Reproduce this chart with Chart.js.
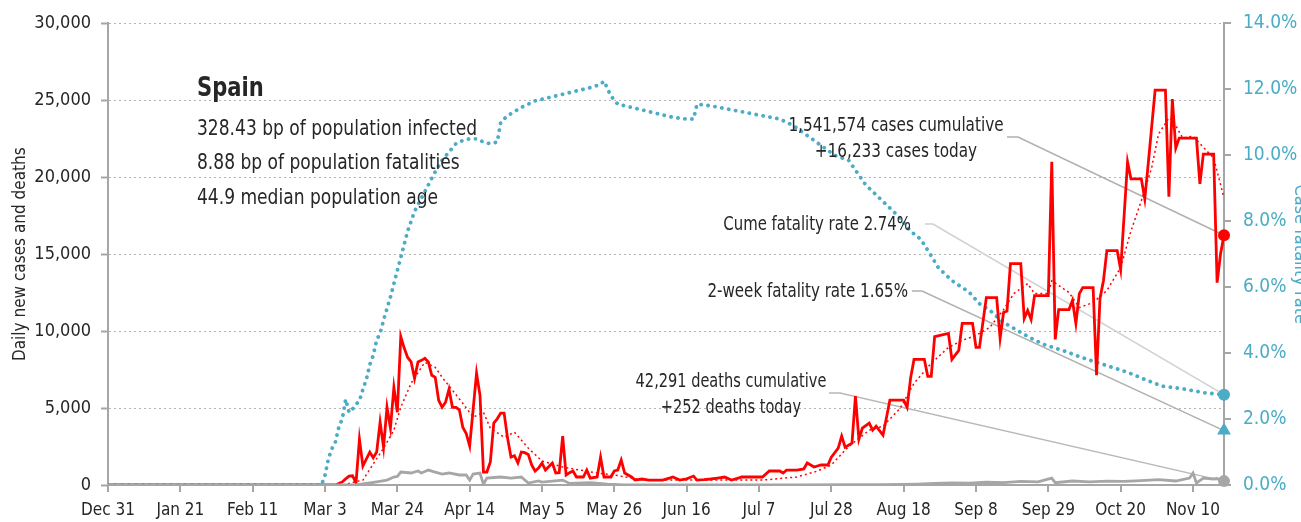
<!DOCTYPE html>
<html>
<head>
<meta charset="utf-8">
<script src="https://cdn.jsdelivr.net/npm/chart.js@4.4.1/dist/chart.umd.min.js"></script>
<style>
html, body { margin: 0; padding: 0; background: #fff; }
#wrap { width: 1301px; height: 522px; position: relative; }
</style>
</head>
<body>
<div id="wrap"><canvas id="chart"></canvas></div>
<script>
// days counted from Dec 31 (day 0)
const tickDays = [0, 21, 42, 63, 84, 105, 126, 147, 168, 189, 210, 231, 252, 273, 294, 315];
const tickLabels = ["Dec 31", "Jan 21", "Feb 11", "Mar 3", "Mar 24", "Apr 14", "May 5", "May 26",
    "Jun 16", "Jul 7", "Jul 28", "Aug 18", "Sep 8", "Sep 29", "Oct 20", "Nov 10"];
const lastDay = 324;

// [day, daily new cases]
const dailyCases = [[0,0],[66,0],[67,100],[68,200],[69,400],[70,580],[71,600],[72,130],[73,2980],[74,1230],[76,2140],[77,1770],[78,2140],[79,4080],[80,2460],[81,5050],[82,3700],[83,6350],[84,4730],[85,9650],[86,8900],[87,8290],[88,8000],[89,6930],[90,8000],[91,8100],[92,8230],[93,8000],[94,7130],[95,7000],[96,5510],[97,5050],[98,5380],[99,6220],[100,5050],[101,5050],[102,4890],[103,3760],[104,3350],[105,2530],[106,4900],[107,7260],[108,5830],[109,840],[110,840],[111,1490],[112,4020],[113,4300],[114,4670],[115,4670],[116,3050],[117,1810],[118,1900],[119,1430],[120,2140],[121,2100],[122,1990],[123,1300],[124,910],[125,1100],[126,1430],[127,970],[128,1200],[129,1430],[130,780],[131,800],[132,3180],[133,650],[134,800],[135,910],[136,520],[138,520],[139,970],[140,450],[142,520],[143,1810],[144,520],[146,520],[147,910],[148,970],[149,1620],[150,780],[152,520],[153,320],[155,390],[157,320],[159,320],[161,320],[163,450],[164,520],[166,320],[168,400],[170,580],[171,320],[173,350],[175,390],[177,450],[179,520],[181,320],[183,450],[184,520],[190,520],[192,910],[195,910],[196,780],[197,970],[200,970],[202,1040],[203,1430],[205,1170],[207,1300],[209,1300],[210,1810],[212,2400],[213,3180],[214,2460],[216,2720],[217,5770],[218,2980],[219,3690],[221,4020],[222,3570],[223,3820],[225,3240],[227,5510],[231,5510],[232,5050],[233,6930],[234,8160],[237,8160],[238,7060],[239,7060],[240,9650],[244,9850],[245,8160],[247,8750],[248,10500],[251,10500],[252,8940],[253,8940],[255,12180],[258,12180],[259,9530],[260,11210],[261,11300],[262,14390],[265,14390],[266,10820],[267,11340],[268,10760],[269,12310],[273,12310],[274,21000],[275,9460],[276,11400],[279,11400],[280,11990],[281,10500],[282,12440],[283,12830],[286,12830],[287,7130],[288,12120],[289,13280],[290,15230],[293,15230],[294,14000],[296,21000],[297,19890],[300,19890],[301,18600],[302,20870],[304,25660],[307,25660],[308,18730],[309,25080],[310,21900],[311,22550],[316,22550],[317,19570],[318,21510],[321,21510],[322,13150],[323,15030],[324,16233]];

// [day, 7-day average of new cases]
const avgCases = [[0,0],[68,0],[74,320],[80,2400],[83,3560],[85,5050],[88,6610],[91,7650],[92,7970],[95,7650],[97,7000],[100,6160],[103,5310],[106,4410],[109,4720],[111,3690],[115,3110],[118,3430],[122,2400],[126,1560],[132,1170],[137,970],[142,780],[147,650],[152,450],[156,320],[190,320],[200,520],[206,910],[210,1300],[215,2500],[221,3560],[225,3820],[230,4990],[234,6610],[239,7910],[244,8940],[248,9400],[252,9720],[256,10240],[260,11400],[263,12440],[267,13090],[269,12440],[273,12440],[274,13280],[279,12510],[282,11530],[286,11860],[290,12640],[294,14130],[297,16520],[300,18470],[303,20610],[305,22810],[308,23850],[309,23750],[312,22550],[315,22680],[319,21710],[321,21250],[324,18660]];

// [day, daily deaths]
const dailyDeaths = [[0,0],[72,0],[76,130],[78,200],[81,320],[83,520],[84,560],[85,840],[88,780],[90,910],[91,780],[93,970],[94,900],[95,840],[97,710],[99,780],[102,650],[104,650],[105,320],[106,710],[108,780],[109,50],[110,450],[114,520],[117,450],[120,520],[122,130],[125,260],[126,190],[132,320],[134,100],[140,150],[145,50],[150,0],[200,0],[215,30],[225,20],[235,60],[240,100],[245,140],[250,120],[255,180],[260,150],[265,240],[270,200],[274,450],[275,150],[280,260],[285,200],[290,250],[295,230],[300,280],[305,350],[310,260],[314,450],[315,780],[316,130],[318,450],[321,390],[322,420],[324,252]];

// [day, case fatality rate %]
const fatalityRate = [[0,0],[62,0],[63,0.3],[64,0.8],[65,1.1],[66,1.3],[67,1.75],[68,2.0],[69,2.6],[70,2.2],[71,2.3],[72,2.45],[73,2.55],[74,2.9],[75,3.2],[76,3.65],[77,3.93],[78,4.4],[79,4.6],[80,5.0],[81,5.35],[82,5.7],[83,6.1],[85,6.9],[87,7.7],[89,8.3],[91,8.7],[93,9.1],[95,9.5],[97,9.85],[99,10.1],[101,10.35],[103,10.45],[105,10.5],[107,10.5],[109,10.4],[111,10.35],[113,10.4],[114,11.0],[116,11.2],[120,11.45],[124,11.65],[128,11.75],[132,11.85],[136,11.95],[140,12.05],[143,12.15],[144,12.25],[146,11.8],[148,11.55],[152,11.45],[156,11.35],[160,11.25],[164,11.15],[168,11.1],[170,11.1],[171,11.55],[175,11.5],[180,11.4],[185,11.3],[190,11.2],[195,11.1],[199,10.9],[203,10.6],[207,10.3],[211,10.0],[215,9.85],[218,9.4],[220,9.1],[224,8.7],[229,8.2],[233,7.7],[236,7.45],[239,6.95],[241,6.6],[245,6.2],[250,5.85],[253,5.5],[256,5.3],[260,4.93],[264,4.69],[268,4.45],[272,4.25],[278,4.05],[284,3.82],[290,3.62],[296,3.42],[301,3.2],[306,3.0],[312,2.92],[318,2.8],[324,2.74]];

// figures quoted on the chart
const casesCumulative = 1541574;
const casesToday = 16233;
const deathsCumulative = 42291;
const deathsToday = 252;
const cumeFatalityRate = 2.74;
const twoWeekFatalityRate = 1.65;
const infectedBp = 328.43;
const fatalitiesBp = 8.88;
const medianAge = 44.9;

const FONT = '"DejaVu Sans Condensed", "DejaVu Sans", sans-serif';
const TEAL = "#4bacc6";
const GREY = "#a6a6a6";
const TEXT = "#262626";

const toPoints = (pairs) => pairs.map(([x, y]) => ({ x: x, y: y }));
const fmt = (n) => n.toLocaleString("en-US");

// squeezed text, the original uses a narrow typeface
function narrowText(ctx, text, x, y, align, font, squeeze) {
    ctx.save();
    ctx.translate(x, y);
    ctx.scale(squeeze, 1);
    ctx.font = font;
    ctx.textAlign = align;
    ctx.fillText(text, 0, 0);
    ctx.restore();
}

// texts and leader lines
const annotations = {
    id: "annotations",
    beforeDatasetsDraw(chart) {
        const { ctx, scales } = chart;
        const ex = scales.x.getPixelForValue(lastDay);
        const leader = (x0, x1, y0, yEnd, color) => {
            ctx.beginPath();
            ctx.moveTo(x0, y0);
            ctx.lineTo(x1, y0);
            ctx.lineTo(ex, yEnd);
            ctx.strokeStyle = color;
            ctx.lineWidth = 1.5;
            ctx.stroke();
        };
        ctx.save();
        leader(1007, 1018, 137, scales.y.getPixelForValue(casesToday), "#b0b0b0");
        leader(925, 933, 224, scales.y2.getPixelForValue(cumeFatalityRate), "#d0d0d0");
        leader(912, 922, 291, scales.y2.getPixelForValue(twoWeekFatalityRate), "#b0b0b0");
        leader(829, 840, 393, scales.y.getPixelForValue(deathsToday), "#b8b8b8");
        ctx.restore();
    },
    afterDatasetsDraw(chart) {
        const { ctx } = chart;
        const big = "22px " + FONT;
        const small = "19.5px " + FONT;
        ctx.save();
        ctx.fillStyle = TEXT;
        ctx.textBaseline = "middle";

        narrowText(ctx, "Spain", 197, 89, "left", "bold 26px " + FONT, 0.9);
        narrowText(ctx, infectedBp + " bp of population infected", 197, 129, "left", big, 0.863);
        narrowText(ctx, fatalitiesBp + " bp of population fatalities", 197, 163, "left", big, 0.863);
        narrowText(ctx, medianAge + " median population age", 197, 198, "left", big, 0.863);

        narrowText(ctx, fmt(casesCumulative) + " cases cumulative", 896, 126, "center", small, 0.87);
        narrowText(ctx, "+" + fmt(casesToday) + " cases today", 896, 152, "center", small, 0.87);
        narrowText(ctx, fmt(deathsCumulative) + " deaths cumulative", 731, 382, "center", small, 0.83);
        narrowText(ctx, "+" + fmt(deathsToday) + " deaths today", 731, 408, "center", small, 0.83);

        narrowText(ctx, "Cume fatality rate " + cumeFatalityRate.toFixed(2) + "%", 911, 225, "right", small, 0.85);
        narrowText(ctx, "2-week fatality rate " + twoWeekFatalityRate.toFixed(2) + "%", 908, 292, "right", small, 0.86);
        ctx.restore();
    },
};

new Chart(document.getElementById("chart"), {
    type: "line",
    data: {
        datasets: [
            { // end markers
                data: [{ x: lastDay, y: deathsToday }],
                yAxisID: "y", pointRadius: 6, pointBackgroundColor: GREY, pointBorderWidth: 0, showLine: false, clip: false,
            },
            {
                data: [{ x: lastDay, y: casesToday }],
                yAxisID: "y", pointRadius: 6, pointBackgroundColor: "#ff0000", pointBorderWidth: 0, showLine: false, clip: false,
            },
            {
                data: [{ x: lastDay, y: cumeFatalityRate }],
                yAxisID: "y2", pointRadius: 6, pointBackgroundColor: TEAL, pointBorderWidth: 0, showLine: false, clip: false,
            },
            {
                data: [{ x: lastDay, y: twoWeekFatalityRate }],
                yAxisID: "y2", pointStyle: "triangle", pointRadius: 8, pointBackgroundColor: TEAL, pointBorderWidth: 0, showLine: false, clip: false,
            },
            {
                label: "Daily deaths",
                data: toPoints(dailyDeaths),
                yAxisID: "y", borderColor: GREY, borderWidth: 2.8, pointRadius: 0,
            },
            {
                label: "Daily new cases",
                data: toPoints(dailyCases),
                yAxisID: "y", borderColor: "#ff0000", borderWidth: 2.8, pointRadius: 0,
            },
            {
                label: "7-day average",
                data: toPoints(avgCases),
                yAxisID: "y", borderColor: "#ff0000", borderWidth: 1.5, borderDash: [2, 3], pointRadius: 0,
            },
            {
                label: "Case fatality rate",
                data: toPoints(fatalityRate),
                yAxisID: "y2", borderColor: TEAL, borderWidth: 3.8, borderDash: [0.1, 6.9], borderCapStyle: "round", pointRadius: 0,
            },
        ],
    },
    options: {
        responsive: true,
        maintainAspectRatio: false,
        animation: false,
        layout: { padding: { top: 22 } },
        plugins: { legend: { display: false }, tooltip: { enabled: false } },
        scales: {
            x: {
                type: "linear",
                min: 0,
                max: lastDay,
                afterBuildTicks: (scale) => {
                    scale.ticks = tickDays.map((d) => ({ value: d }));
                },
                afterFit: (scale) => { scale.height = 37; },
                ticks: {
                    autoSkip: false,
                    maxRotation: 0,
                    padding: 8,
                    color: TEXT,
                    font: { family: FONT, size: 17 },
                    callback: (value) => tickLabels[tickDays.indexOf(value)],
                },
                grid: { drawOnChartArea: false, tickLength: 7, color: GREY, lineWidth: 2 },
                border: { color: GREY, width: 2 },
            },
            y: {
                position: "left",
                min: 0,
                max: 30000,
                afterFit: (scale) => { scale.width = 108; },
                ticks: {
                    stepSize: 5000,
                    padding: 10,
                    color: TEXT,
                    font: { family: FONT, size: 18 },
                    callback: (value) => fmt(value),
                },
                grid: { color: "#b4b4b4", lineWidth: 1, tickLength: 7, tickColor: GREY, tickWidth: 2 },
                border: { color: GREY, width: 2, dash: [2, 3] },
                title: {
                    display: true,
                    text: "Daily new cases and deaths",
                    color: TEXT,
                    font: { family: FONT, size: 17 },
                    padding: { top: 10, bottom: 0 },
                },
            },
            y2: {
                position: "right",
                min: 0,
                max: 14,
                afterFit: (scale) => { scale.width = 77; },
                ticks: {
                    stepSize: 2,
                    padding: 12,
                    color: TEAL,
                    font: { family: FONT, size: 19 },
                    callback: (value) => value.toFixed(1) + "%",
                },
                grid: { drawOnChartArea: false, tickLength: 7, color: GREY, lineWidth: 2 },
                border: { color: GREY, width: 2 },
                title: {
                    display: true,
                    text: "Case fatality rate",
                    color: TEAL,
                    font: { family: FONT, size: 18 },
                    padding: { top: -9, bottom: 0 },
                },
            },
        },
    },
    plugins: [annotations],
});
</script>
</body>
</html>
